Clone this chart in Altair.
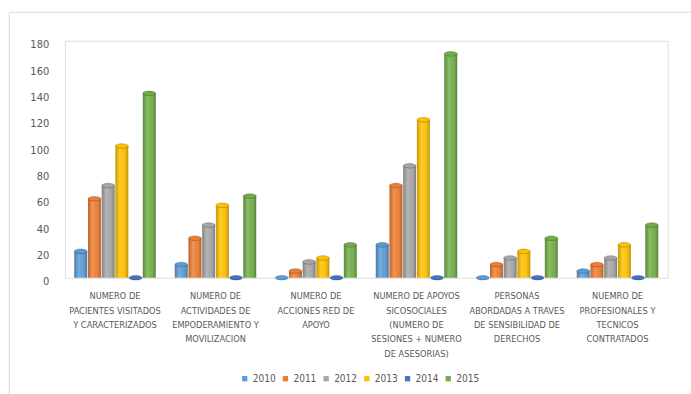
import altair as alt
import pandas as pd

# Category labels; "|" marks a line break in the axis label
categories = [
    "NUMERO DE|PACIENTES VISITADOS|Y CARACTERIZADOS",
    "NUMERO DE|ACTIVIDADES DE|EMPODERAMIENTO Y|MOVILIZACION",
    "NUMERO DE|ACCIONES RED DE|APOYO",
    "NUMERO DE APOYOS|SICOSOCIALES|(NUMERO DE|SESIONES + NUMERO|DE ASESORIAS)",
    "PERSONAS|ABORDADAS A TRAVES|DE SENSIBILIDAD DE|DERECHOS",
    "NUEMRO DE|PROFESIONALES Y|TECNICOS|CONTRATADOS",
]
years = ["2010", "2011", "2012", "2013", "2014", "2015"]

values_2010 = [20, 10, 0, 25, 0, 5]
values_2011 = [60, 30, 5, 70, 10, 10]
values_2012 = [70, 40, 12, 85, 15, 15]
values_2013 = [100, 55, 15, 120, 20, 25]
values_2014 = [0, 0, 0, 0, 0, 0]
values_2015 = [140, 62, 25, 170, 30, 40]

year_colors = ["#5B9BD5", "#ED7D31", "#A5A5A5", "#FFC000", "#4472C4", "#70AD47"]

series = [values_2010, values_2011, values_2012, values_2013, values_2014, values_2015]
rows = []
for year, vals in zip(years, series):
    for cat, v in zip(categories, vals):
        rows.append({"categoria": cat, "anio": year, "valor": v})
df = pd.DataFrame(rows)

FONT = "Liberation Sans Narrow, DejaVu Sans Condensed, Arial Narrow, sans-serif"
TEXT = "#595959"

x_enc = alt.X(
    "categoria:N",
    sort=categories,
    scale=alt.Scale(paddingInner=0.19, paddingOuter=0.095),
    axis=alt.Axis(
        title=None,
        labelExpr="split(datum.value, '|')",
        labelAngle=0,
        labelFont=FONT,
        labelFontSize=9.2,
        labelColor=TEXT,
        labelLineHeight=14.4,
        labelPadding=14,
        labelBaseline="top",
        labelLimit=0,
        ticks=False,
        domain=False,
    ),
)
xoff_enc = alt.XOffset("anio:N", sort=years, scale=alt.Scale(paddingInner=0.06))
y_enc = alt.Y(
    "valor:Q",
    scale=alt.Scale(domain=[0, 180], nice=False),
    axis=alt.Axis(
        title=None,
        values=list(range(0, 181, 20)),
        labelOffset=4,
        labelFont=FONT,
        labelFontSize=11,
        labelColor=TEXT,
        labelPadding=16,
        ticks=False,
        domain=False,
        grid=False,
    ),
)
color_scale = alt.Scale(domain=years, range=year_colors)

base = alt.Chart(df)

bars = base.mark_bar().encode(
    x=x_enc,
    xOffset=xoff_enc,
    y=y_enc,
    color=alt.Color(
        "anio:N",
        scale=color_scale,
        legend=alt.Legend(
            title=None,
            orient="none",
            direction="horizontal",
            columns=6,
            legendX=175,
            legendY=333,
            symbolType="square",
            symbolSize=28,
            symbolStrokeWidth=0,
            symbolOffset=0,
            labelOffset=3,
            columnPadding=4.7,
            labelFont=FONT,
            labelFontSize=10,
            labelColor=TEXT,
            padding=0,
        ),
    ),
)

# Cylinder shading laid over every column
shade = base.mark_bar(
    fill=alt.Gradient(
        gradient="linear",
        x1=0, x2=1, y1=0, y2=0,
        stops=[
            alt.GradientStop(color="rgba(0,0,0,0.22)", offset=0),
            alt.GradientStop(color="rgba(255,255,255,0.18)", offset=0.35),
            alt.GradientStop(color="rgba(255,255,255,0.05)", offset=0.6),
            alt.GradientStop(color="rgba(0,0,0,0.28)", offset=1),
        ],
    )
).encode(x=x_enc, xOffset=xoff_enc, y=y_enc)

# Elliptical top of each cylinder
caps = base.mark_point(
    shape="M -1 0 A 1 0.36 0 1 0 1 0 A 1 0.36 0 1 0 -1 0 Z",
    size=165,
    filled=True,
    opacity=1,
    stroke="rgba(0,0,0,0.35)",
    strokeWidth=0.6,
).encode(
    x=x_enc,
    xOffset=xoff_enc,
    y=y_enc,
    fill=alt.Fill("anio:N", scale=color_scale, legend=None),
)

frame = alt.Chart(pd.DataFrame({"k": [0]})).mark_rect(
    fill="transparent", stroke="#D9D9D9", strokeWidth=1
).encode(
    x=alt.value(-55.5), x2=alt.value(700), y=alt.value(-28.5), y2=alt.value(420)
)

chart = (
    alt.layer(frame, bars, shade, caps)
    .properties(
        width=603,
        height=237,
        autosize=alt.AutoSizeParams(type="none"),
        padding={"left": 64.75, "top": 40.7, "right": 23.25, "bottom": 116.3},
    )
    .configure_view(stroke=None)
    .configure(background="white")
)

chart.save("out.html", embed_options={"renderer": "svg", "actions": False})
